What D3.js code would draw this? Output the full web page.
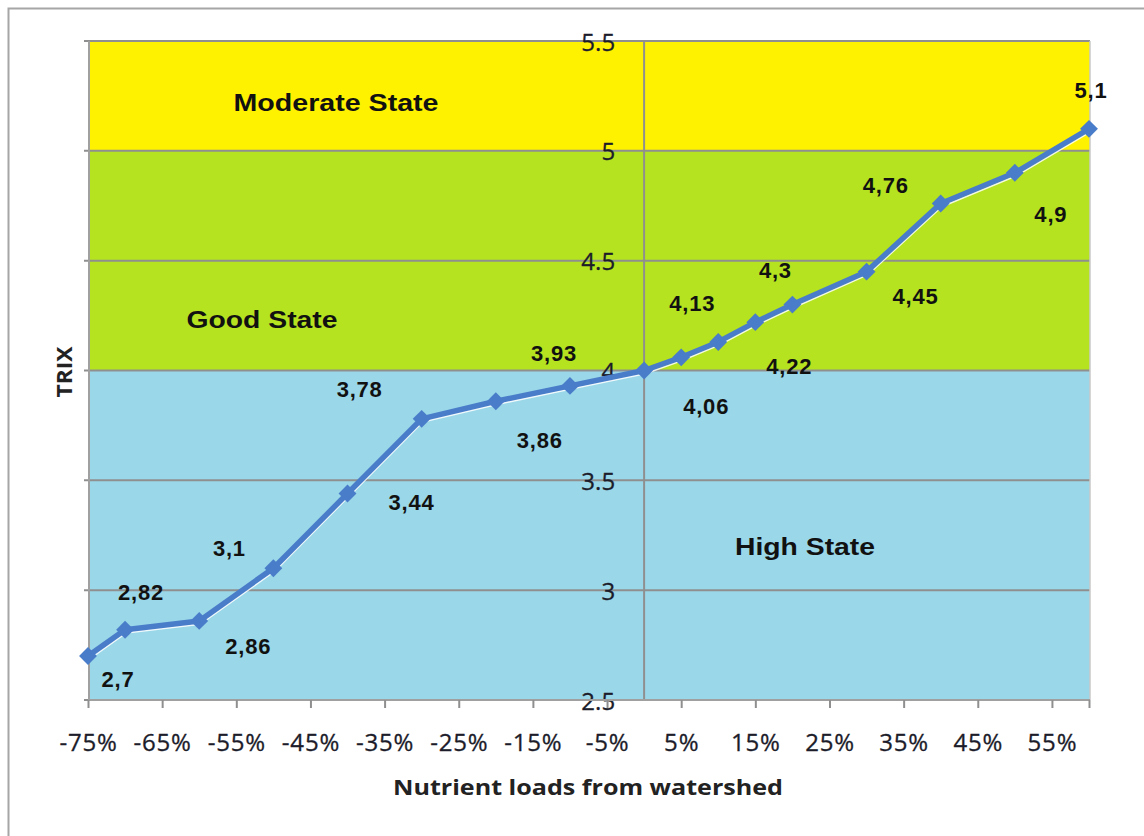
<!DOCTYPE html>
<html>
<head>
<meta charset="utf-8">
<script src="https://cdn.jsdelivr.net/npm/d3@7"></script>
<style>
  html, body { margin: 0; padding: 0; background: #fff; }
  svg { display: block; }
</style>
</head>
<body>
<svg id="chart" width="1144" height="836"></svg>
<script>
// ---- data ----
const xValues = [-75, -70, -60, -50, -40, -30, -20, -10, 0, 5, 10, 15, 20, 30, 40, 50, 60];
const trixValues = [2.7, 2.82, 2.86, 3.1, 3.44, 3.78, 3.86, 3.93, 4.0, 4.06, 4.13, 4.22, 4.3, 4.45, 4.76, 4.9, 5.1];
const pointLabels = ["2,7", "2,82", "2,86", "3,1", "3,44", "3,78", "3,86", "3,93", "", "4,06", "4,13", "4,22", "4,3", "4,45", "4,76", "4,9", "5,1"];
const xTickValues = [-75, -65, -55, -45, -35, -25, -15, -5, 5, 15, 25, 35, 45, 55];
const yTickValues = [2.5, 3, 3.5, 4, 4.5, 5, 5.5];
const bandNames = ["High State", "Good State", "Moderate State"];
const bandLow = [2.5, 4, 5];
const bandHigh = [4, 5, 5.5];

// ---- layout / style ----
const bandColors = ["#9AD7E8", "#B5E31F", "#FFF200"];
const bandLabelPos = [[805, 546, 140], [262, 319, 151], [336, 102, 205]]; // center x, center y, width
// label offsets (dx, dy) from each point
const labelOffsets = [[30, 23], [16, -37], [49, 26], [-44, -20], [64, 9], [-62, -29], [44, 39], [-16, -32], [0, 0],
  [25, 49], [-26, -38], [34, 44], [-17, -34], [49, 25], [-55, -18], [36, 42], [2, -38]];

const svg = d3.select("#chart");
const plot = { left: 89, right: 1090, top: 41, bottom: 700 };

const x = d3.scaleLinear().domain([-75, 60]).range([88, 1089]);
const y = d3.scaleLinear().domain([2.5, 5.5]).range([plot.bottom, plot.top]);

// outer border
svg.append("rect").attr("x", 8.5).attr("y", 8.5).attr("width", 1160).attr("height", 860)
  .attr("fill", "none").attr("stroke", "#a6a6a6").attr("stroke-width", 2);

// bands
svg.selectAll("rect.band").data(bandNames).enter().append("rect")
  .attr("class", "band")
  .attr("x", plot.left).attr("width", plot.right - plot.left)
  .attr("y", (d, i) => y(bandHigh[i]))
  .attr("height", (d, i) => y(bandLow[i]) - y(bandHigh[i]))
  .attr("fill", (d, i) => bandColors[i]);

// horizontal gridlines
svg.selectAll("line.grid").data(yTickValues).enter().append("line")
  .attr("x1", plot.left - 5).attr("x2", plot.right)
  .attr("y1", d => y(d)).attr("y2", d => y(d))
  .attr("stroke", "#8f8f8f").attr("stroke-width", 2);

// left edge / right edge
svg.append("line").attr("x1", plot.left).attr("x2", plot.left).attr("y1", plot.top).attr("y2", plot.bottom)
  .attr("stroke", "#a0a0a0").attr("stroke-width", 2);
svg.append("line").attr("x1", plot.right).attr("x2", plot.right).attr("y1", plot.top).attr("y2", plot.bottom)
  .attr("stroke", "#c8c8c8").attr("stroke-width", 1.5);

// vertical value axis at x = 0
svg.append("line").attr("x1", x(0)).attr("x2", x(0)).attr("y1", plot.top).attr("y2", plot.bottom)
  .attr("stroke", "#8f8f8f").attr("stroke-width", 2);

// y tick labels
svg.selectAll("text.ytick").data(yTickValues).enter().append("text")
  .attr("x", x(0) - 29).attr("y", d => y(d))
  .attr("text-anchor", "end").attr("dominant-baseline", "central")
  .attr("font-family", "Open Sans").attr("font-size", 24).attr("fill", "#1c1c2a")
  .attr("stroke", "#1c1c2a").attr("stroke-width", 0.3)
  .text(d => d3.format("")(d));

// x axis
const xAxis = d3.axisBottom(x).tickValues(xTickValues.concat([60])).tickSize(8).tickFormat(d => d === 60 ? "" : d + "%");
const gx = svg.append("g").attr("transform", `translate(0,${plot.bottom})`).call(xAxis);
gx.select(".domain").attr("stroke", "#a0a0a0").attr("stroke-width", 2).attr("d", `M${plot.left},0H${plot.right}`);
gx.selectAll(".tick line").attr("stroke", "#8f8f8f").attr("stroke-width", 2);
gx.selectAll(".tick text").attr("y", 34).attr("font-family", "Open Sans").attr("font-size", 24)
  .attr("fill", "#1c1c2a").attr("stroke", "#1c1c2a").attr("stroke-width", 0.3).attr("letter-spacing", 0.8);

// axis titles
svg.append("text").attr("x", 588).attr("y", 795).attr("text-anchor", "middle")
  .attr("font-family", "Open Sans").attr("font-weight", "bold").attr("font-size", 22).attr("fill", "#222")
  .attr("textLength", 390).attr("lengthAdjust", "spacingAndGlyphs")
  .text("Nutrient loads from watershed");
svg.append("text").attr("transform", "translate(72,372) rotate(-90)").attr("text-anchor", "middle")
  .attr("font-family", "Open Sans").attr("font-weight", "bold").attr("font-size", 22).attr("fill", "#222")
  .attr("textLength", 51).attr("lengthAdjust", "spacingAndGlyphs")
  .text("TRIX");

// band labels
svg.selectAll("text.band").data(bandNames).enter().append("text")
  .attr("x", (d, i) => bandLabelPos[i][0]).attr("y", (d, i) => bandLabelPos[i][1])
  .attr("text-anchor", "middle").attr("dominant-baseline", "central")
  .attr("font-family", "Liberation Sans").attr("font-weight", "bold").attr("font-size", 24).attr("fill", "#111")
  .attr("textLength", (d, i) => bandLabelPos[i][2]).attr("lengthAdjust", "spacingAndGlyphs")
  .text(d => d);

// line series
const pts = xValues.map((v, i) => [v, trixValues[i]]);
const line = d3.line().x(d => x(d[0])).y(d => y(d[1]));
svg.append("path").datum(pts).attr("d", line).attr("fill", "none")
  .attr("stroke", "#ffffff").attr("stroke-width", 2).attr("transform", "translate(1,3)")
  .attr("stroke-linejoin", "round").attr("opacity", 0.85);
svg.append("path").datum(pts).attr("d", line).attr("fill", "none")
  .attr("stroke", "#4A7DC9").attr("stroke-width", 5.5).attr("stroke-linejoin", "round");

// markers (diamonds)
svg.selectAll("path.marker").data(pts).enter().append("path")
  .attr("class", "marker")
  .attr("d", d3.symbol().type(d3.symbolSquare).size(160))
  .attr("transform", d => `translate(${x(d[0])},${y(d[1])}) rotate(45)`)
  .attr("fill", "#4A7DC9");

// data labels
svg.selectAll("text.dl").data(pts).enter().append("text")
  .attr("x", (d, i) => x(d[0]) + labelOffsets[i][0])
  .attr("y", (d, i) => y(d[1]) + labelOffsets[i][1])
  .attr("text-anchor", "middle").attr("dominant-baseline", "central")
  .attr("font-family", "Liberation Sans").attr("font-weight", "bold").attr("font-size", 22)
  .attr("letter-spacing", 0.8).attr("fill", "#111")
  .text((d, i) => pointLabels[i]);
</script>
</body>
</html>
